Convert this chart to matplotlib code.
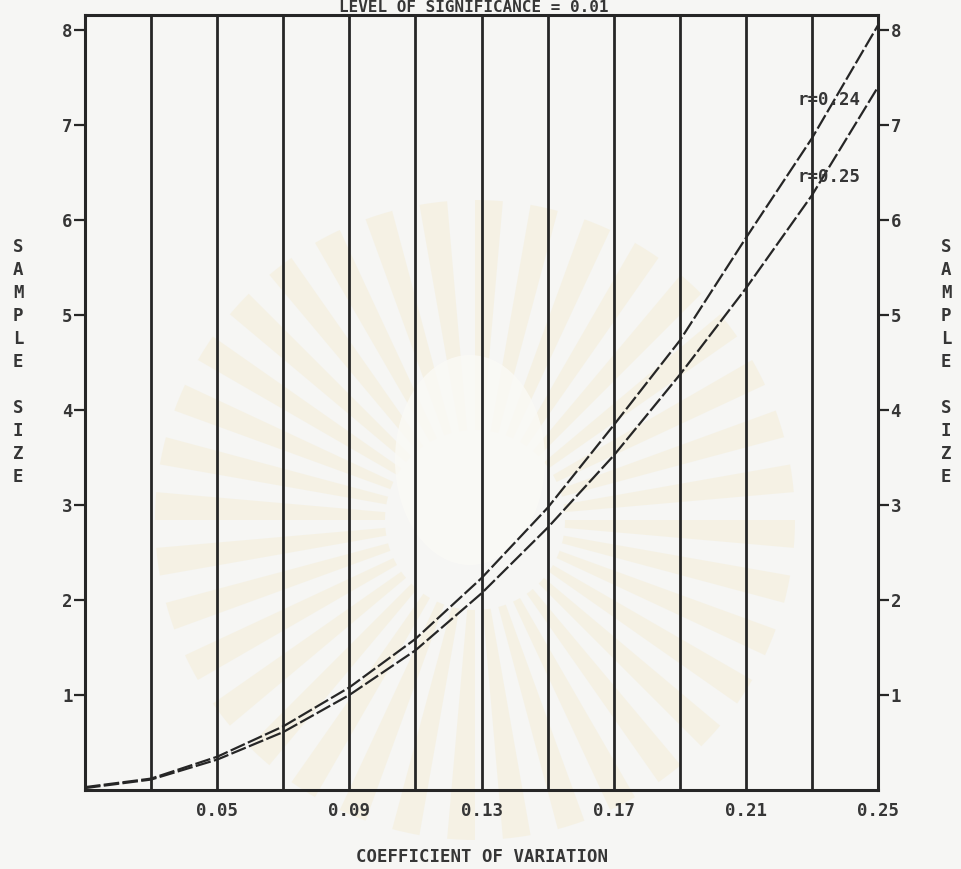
import matplotlib
matplotlib.use("Agg")
import matplotlib.pyplot as plt
from matplotlib.patches import Wedge, Ellipse
import numpy as np

# Coefficient of variation at each grid line, with sample sizes for two r values
cv = [0.01, 0.03, 0.05, 0.07, 0.09, 0.11, 0.13, 0.15, 0.17, 0.19, 0.21, 0.23, 0.25]
n_r024 = [0.03, 0.12, 0.35, 0.67, 1.08, 1.59, 2.23, 2.97, 3.84, 4.73, 5.81, 6.86, 8.05]
n_r025 = [0.02, 0.11, 0.32, 0.61, 1.00, 1.47, 2.07, 2.76, 3.52, 4.37, 5.28, 6.26, 7.40]

grid_cv = [0.03, 0.05, 0.07, 0.09, 0.11, 0.13, 0.15, 0.17, 0.19, 0.21, 0.23]
xtick_vals = [0.05, 0.09, 0.13, 0.17, 0.21, 0.25]
xtick_text = ["0.05", "0.09", "0.13", "0.17", "0.21", "0.25"]
ytick_vals = [1, 2, 3, 4, 5, 6, 7, 8]
ytick_text = ["1", "2", "3", "4", "5", "6", "7", "8"]

title = "LEVEL OF SIGNIFICANCE = 0.01"
xlabel = "COEFFICIENT OF VARIATION"
ylabel = "SAMPLE SIZE"
curve_labels = ["r=0.24", "r=0.25"]

W, H = 961, 869
INK = "#262626"
TEXT = "#363636"
PAPER = "#f6f6f4"
FONT = "DejaVu Sans Mono"
TXT = dict(family=FONT, fontsize=12.5, fontweight="bold", color=TEXT)

fig = plt.figure(figsize=(W / 100, H / 100), dpi=100, facecolor=PAPER)

# faint emblem printed behind the page
bg = fig.add_axes([0, 0, 1, 1], zorder=-5)
bg.set_xlim(0, W)
bg.set_ylim(H, 0)
bg.axis("off")
cx, cy = 475, 520
for a in np.arange(0, 360, 10):
    bg.add_patch(Wedge((cx, cy), 320, a, a + 5, width=230,
                       facecolor="#f3e6bd", edgecolor="none", alpha=0.28))
bg.add_patch(Ellipse((cx - 5, cy - 60), 150, 210, facecolor="#fbfaf6",
                     edgecolor="none", alpha=0.8))

ax = fig.add_axes([85 / W, 1 - 790 / H, (878 - 85) / W, (790 - 15) / H])
ax.set_facecolor("none")
ax.set_xlim(0.01, 0.25)
ax.set_ylim(0, (790 - 15) / 95)

for g in grid_cv:
    ax.axvline(g, color=INK, lw=2.0, zorder=2)

ax.plot(cv, n_r024, color=INK, lw=1.6, linestyle=(0, (7, 1.5)), zorder=3)
ax.plot(cv, n_r025, color=INK, lw=1.6, linestyle=(0, (7, 1.5)), zorder=3)

ax.text(0.2255, 7.26, curve_labels[0], va="center", ha="left", zorder=4, **TXT)
ax.text(0.2255, 6.45, curve_labels[1], va="center", ha="left", zorder=4, **TXT)

for s in ax.spines.values():
    s.set_color(INK)
    s.set_linewidth(2.2)

ax.set_xticks(xtick_vals)
ax.set_xticklabels(xtick_text)
ax.set_yticks(ytick_vals)
ax.set_yticklabels(ytick_text)
ax.tick_params(axis="x", length=0, pad=9, labelsize=12.5, labelcolor=TEXT)
ax.tick_params(axis="y", direction="out", length=8, width=1.6, pad=1,
               labelsize=12.5, colors=INK, labelcolor=TEXT,
               right=True, labelright=True)
for lab in ax.get_xticklabels() + ax.get_yticklabels():
    lab.set_family(FONT)
    lab.set_fontweight("bold")

ax.set_xlabel(xlabel, labelpad=20, **TXT)

stacked = "\n".join(ylabel)
fig.text(18 / W, 1 - 362 / H, stacked, ha="center", va="center",
         linespacing=1.36, **TXT)
fig.text(946 / W, 1 - 362 / H, stacked, ha="center", va="center",
         linespacing=1.36, **TXT)

fig.text(474 / W, 1 - 12 / H, title, ha="center", va="baseline",
         **{**TXT, "fontsize": 11.5})

fig.savefig("out.png", dpi=100, facecolor=PAPER)
